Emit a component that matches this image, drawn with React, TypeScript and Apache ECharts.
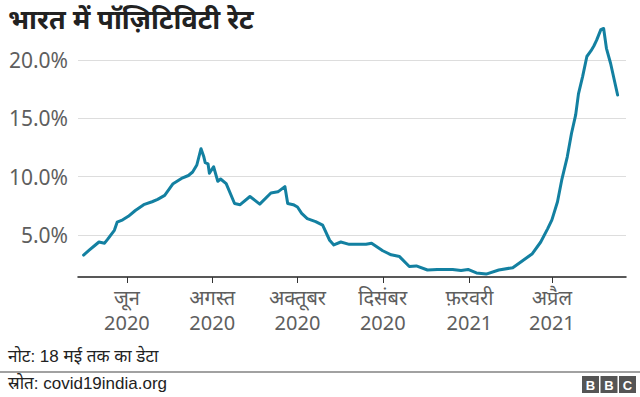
import React, { useEffect, useRef } from "react";
import * as echarts from "echarts";

const titleText = "भारत में पॉज़िटिविटी रेट";
const noteText = "नोट: 18 मई तक का डेटा";
const sourceText = "स्रोत: covid19india.org";

const dates = [
  "2020-05-01", "2020-05-05", "2020-05-09", "2020-05-12", "2020-05-16", "2020-05-18",
  "2020-05-23", "2020-05-25", "2020-05-29", "2020-06-02", "2020-06-07", "2020-06-13",
  "2020-06-19", "2020-06-23", "2020-06-28", "2020-07-04", "2020-07-10", "2020-07-15",
  "2020-07-18", "2020-07-21", "2020-07-24", "2020-07-26", "2020-07-27", "2020-07-29",
  "2020-07-30", "2020-08-02", "2020-08-05", "2020-08-07", "2020-08-11", "2020-08-17",
  "2020-08-21", "2020-08-28", "2020-09-04", "2020-09-12", "2020-09-17", "2020-09-22",
  "2020-09-24", "2020-09-28", "2020-10-01", "2020-10-04", "2020-10-08", "2020-10-14",
  "2020-10-19", "2020-10-24", "2020-10-27", "2020-11-01", "2020-11-07", "2020-11-13",
  "2020-11-19", "2020-11-23", "2020-12-01", "2020-12-07", "2020-12-13", "2020-12-20",
  "2020-12-25", "2021-01-02", "2021-01-09", "2021-01-20", "2021-01-26", "2021-01-31",
  "2021-02-06", "2021-02-13", "2021-02-22", "2021-03-04", "2021-03-11", "2021-03-18",
  "2021-03-24", "2021-03-29", "2021-04-01", "2021-04-05", "2021-04-08", "2021-04-12",
  "2021-04-15", "2021-04-18", "2021-04-20", "2021-04-23", "2021-04-26", "2021-04-29",
  "2021-05-01", "2021-05-03", "2021-05-06", "2021-05-08", "2021-05-10", "2021-05-13",
  "2021-05-18",
];

const positivity = [
  3.28, 3.7, 4.1, 4.4, 4.3, 4.6,
  5.4, 6.1, 6.3, 6.6, 7.1, 7.6,
  7.85, 8.05, 8.4, 9.4, 9.85, 10.1,
  10.4, 11.0, 12.4, 11.7, 11.2, 11.1,
  10.3, 10.85, 9.6, 9.8, 9.4, 7.7,
  7.6, 8.3, 7.65, 8.6, 8.7, 9.15,
  7.7, 7.6, 7.4, 6.85, 6.4, 6.15,
  5.85, 4.55, 4.15, 4.4, 4.2, 4.2,
  4.2, 4.3, 3.65, 3.3, 3.15, 2.3,
  2.35, 2.0, 2.05, 2.05, 1.95, 2.05,
  1.75, 1.65, 2.0, 2.2, 2.8, 3.4,
  4.4, 5.55, 6.3, 7.85, 9.7, 11.7,
  13.7, 15.3, 17.1, 18.6, 20.3, 20.8,
  21.2, 21.7, 22.6, 22.7, 21.0, 19.7,
  17.0,
];

const yTicks = [5, 10, 15, 20];
const xTickDates = ["2020-06-01", "2020-08-01", "2020-10-01", "2020-12-01", "2021-02-01", "2021-04-01"];
const xTickLabels = ["जून\n2020", "अगस्त\n2020", "अक्तूबर\n2020", "दिसंबर\n2020", "फ़रवरी\n2021", "अप्रैल\n2021"];

const toTime = (s: string) => {
  const [y, m, d] = s.split("-").map(Number);
  return Date.UTC(y, m - 1, d);
};

export default function App() {
  const ref = useRef<HTMLDivElement>(null);

  useEffect(() => {
    if (!ref.current) return;
    const chart = echarts.init(ref.current, undefined, { renderer: "svg" });
    const xTickTimes = xTickDates.map(toTime);
    const labelFont = "'Noto Sans', 'Open Sans', sans-serif";
    const footFont = "'Liberation Sans', Arial, 'Noto Sans', sans-serif";

    const bbcLetters = ["B", "B", "C"];
    const bbc = bbcLetters.map((ch, i) => ({
      type: "group",
      x: 582 + i * 18.5,
      y: 376,
      children: [
        { type: "rect", shape: { x: 0, y: 0, width: 17, height: 17 }, style: { fill: "#555555" } },
        {
          type: "text",
          x: 8.5,
          y: 9,
          style: {
            text: ch,
            fill: "#ffffff",
            fontSize: 13,
            fontWeight: "bold",
            fontFamily: footFont,
            textAlign: "center",
            textVerticalAlign: "middle",
          },
        },
      ],
    }));

    chart.setOption({
      animation: false,
      grid: { left: 78, right: 14, top: 60, bottom: 120, containLabel: false },
      xAxis: {
        type: "value",
        min: toTime("2020-04-27"),
        max: toTime("2021-05-24"),
        axisLine: { show: true, lineStyle: { color: "#222222", width: 1.5 } },
        axisTick: { show: true, length: 6, lineStyle: { color: "#333333", width: 1 }, customValues: xTickTimes },
        axisLabel: {
          customValues: xTickTimes,
          formatter: (v: number) => {
            let best = 0;
            xTickTimes.forEach((t, i) => {
              if (Math.abs(t - v) < Math.abs(xTickTimes[best] - v)) best = i;
            });
            return xTickLabels[best];
          },
          color: "#5e5e5e",
          fontSize: 20,
          lineHeight: 25,
          fontFamily: labelFont,
          margin: 8,
          hideOverlap: false,
        },
        splitLine: { show: false },
      },
      yAxis: {
        type: "value",
        min: 1.4,
        max: 20,
        axisLine: { show: false },
        axisTick: { show: false, customValues: yTicks },
        axisLabel: {
          customValues: yTicks,
          formatter: (v: number) => v.toFixed(1) + "%",
          color: "#5e5e5e",
          fontSize: 21,
          fontFamily: labelFont,
          margin: 10,
        },
        splitLine: { show: true, customValues: yTicks, lineStyle: { color: "#dddddd", width: 1.2 } },
      },
      series: [
        {
          type: "line",
          data: dates.map((d, i) => [toTime(d), positivity[i]]),
          showSymbol: false,
          symbol: "none",
          clip: false,
          lineStyle: { color: "#1380a1", width: 3, join: "round", cap: "round" },
          silent: true,
        },
      ],
      graphic: [
        {
          type: "text",
          x: 8,
          y: 18,
          style: {
            text: titleText,
            fill: "#222222",
            fontSize: 27,
            fontWeight: "bold",
            fontFamily: labelFont,
            textVerticalAlign: "middle",
          },
        },
        {
          type: "text",
          x: 8,
          y: 348,
          style: {
            text: noteText,
            fill: "#222222",
            fontSize: 17,
            fontFamily: footFont,
          },
        },
        {
          type: "line",
          shape: { x1: 0, y1: 372, x2: 640, y2: 372 },
          style: { stroke: "#444444", lineWidth: 1.2 },
        },
        {
          type: "text",
          x: 8,
          y: 375,
          style: {
            text: sourceText,
            fill: "#222222",
            fontSize: 17,
            fontFamily: footFont,
          },
        },
        ...bbc,
      ],
    });

    return () => chart.dispose();
  }, []);

  return (
    <div
      ref={ref}
      style={{ position: "fixed", left: 0, top: 0, width: 640, height: 397, background: "#ffffff" }}
    />
  );
}
